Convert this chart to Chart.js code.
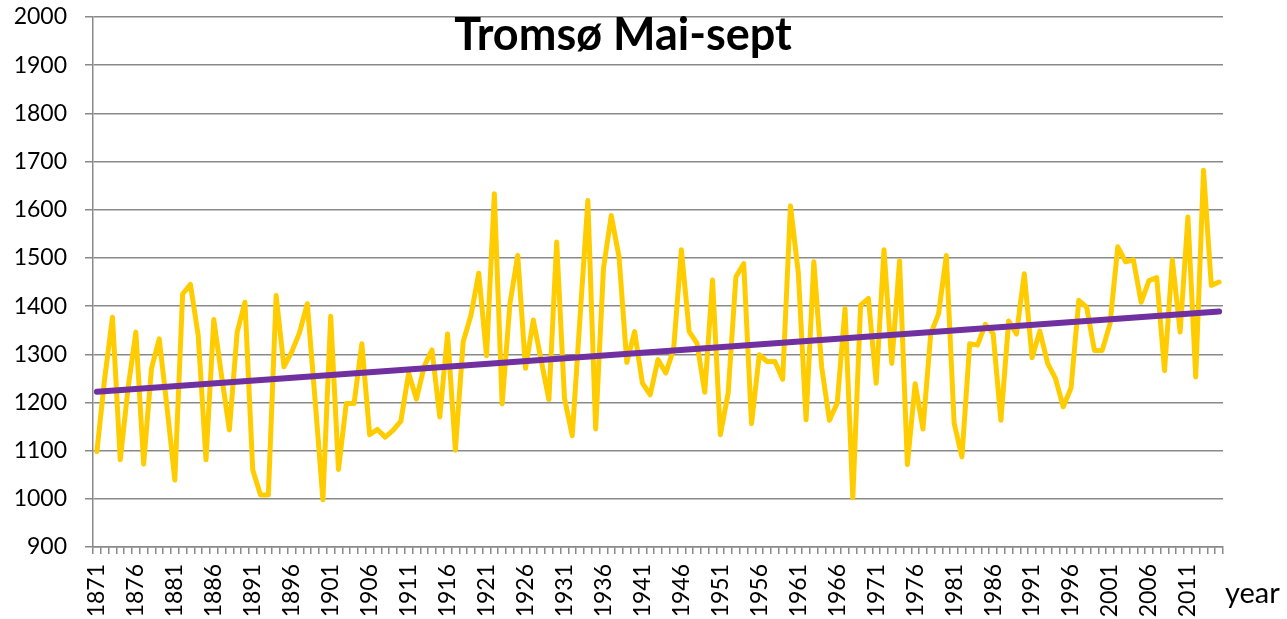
<!DOCTYPE html>
<html>
<head>
<meta charset="utf-8">
<title>Tromsø Mai-sept</title>
<script src="https://cdn.jsdelivr.net/npm/chart.js@4.4.1/dist/chart.umd.min.js"></script>
<style>
    html, body { margin: 0; padding: 0; background: #ffffff; }
    #wrap { width: 1287px; height: 619px; position: relative; }
</style>
</head>
<body>
<div id="wrap"><canvas id="tromsoChart"></canvas></div>
<script>
// Years on the category axis
const firstYear = 1871;
const lastYear = 2015;
const years = Array.from({ length: lastYear - firstYear + 1 }, (_, i) => String(firstYear + i));

// Yearly values (1871-2015)
const tromsoValues = [
    1098, 1250, 1377, 1081, 1230, 1346, 1072, 1270, 1332, 1190,
    1039, 1425, 1445, 1339, 1081, 1372, 1255, 1143, 1346, 1408,
    1060, 1008, 1008, 1422, 1274, 1305, 1345, 1405, 1205, 998,
    1379, 1061, 1198, 1198, 1322, 1133, 1144, 1128, 1142, 1161,
    1261, 1207, 1275, 1309, 1170, 1342, 1101, 1326, 1381, 1468,
    1297, 1633, 1197, 1405, 1505, 1271, 1371, 1288, 1206, 1533,
    1209, 1131, 1378, 1619, 1145, 1478, 1588, 1502, 1283, 1347,
    1240, 1216, 1289, 1261, 1310, 1517, 1347, 1323, 1221, 1454,
    1133, 1219, 1461, 1488, 1156, 1299, 1285, 1285, 1248, 1608,
    1470, 1164, 1492, 1274, 1163, 1199, 1395, 1002, 1402, 1416,
    1240, 1517, 1281, 1494, 1071, 1239, 1145, 1343, 1384, 1505,
    1157, 1087, 1322, 1319, 1362, 1343, 1163, 1369, 1342, 1467,
    1293, 1348, 1281, 1250, 1191, 1230, 1412, 1398, 1308, 1308,
    1363, 1523, 1492, 1496, 1408, 1453, 1459, 1266, 1496, 1346,
    1585, 1253, 1682, 1443, 1450
];

// Trend line end points
const trendStart = 1222;
const trendEnd = 1389;
const trendValues = years.map((_, i) => i === 0 ? trendStart : (i === years.length - 1 ? trendEnd : null));

// Y axis range and every 5th year as a tick label
const yMin = 900;
const yMax = 2000;
const yStep = 100;
const labelEvery = 5;

const titleText = 'Tromsø Mai-sept';
const xAxisTitle = 'year';

const gridColor = '#898989';

// Draws the title inside the plot and the "year" label to the right of the axis
const textPlugin = {
    id: 'textPlugin',
    afterDraw(chart) {
        const ctx = chart.ctx;
        ctx.save();
        ctx.fillStyle = '#000000';
        ctx.textBaseline = 'alphabetic';
        ctx.textAlign = 'center';
        ctx.font = 'bold 45px Lato';
        ctx.fillText(titleText, 623, 50);
        ctx.textAlign = 'left';
        ctx.font = '29px Lato';
        ctx.fillText(xAxisTitle, 1225, 603);
        ctx.restore();
    }
};

const ctxTromso = document.getElementById('tromsoChart').getContext('2d');
const tromsoChart = new Chart(ctxTromso, {
    type: 'line',
    data: {
        labels: years,
        datasets: [{
            label: 'Trend',
            data: trendValues,
            borderColor: '#7030A0',
            borderWidth: 6,
            borderCapStyle: 'round',
            pointRadius: 0,
            spanGaps: true,
            order: 1
        }, {
            label: 'Tromsø',
            data: tromsoValues,
            borderColor: '#FFCC00',
            borderWidth: 5,
            borderJoinStyle: 'round',
            borderCapStyle: 'round',
            pointRadius: 0,
            tension: 0,
            order: 2
        }]
    },
    options: {
        responsive: true,
        maintainAspectRatio: false,
        animation: false,
        layout: {
            padding: { top: 17, right: 64, bottom: 0, left: 0 }
        },
        plugins: {
            legend: { display: false },
            tooltip: { enabled: false }
        },
        scales: {
            x: {
                type: 'category',
                offset: true,
                grid: {
                    display: true,
                    drawOnChartArea: false,
                    offset: true,
                    color: gridColor,
                    lineWidth: 1.5,
                    tickLength: 7
                },
                border: { color: gridColor, width: 1.5 },
                ticks: {
                    autoSkip: false,
                    maxRotation: 90,
                    minRotation: 90,
                    padding: 10,
                    color: '#000000',
                    font: { family: 'Lato', size: 23 },
                    callback: function (value, index) {
                        return index % labelEvery === 0 ? years[index] : '';
                    }
                },
                afterFit: function (scale) {
                    scale.height = 72;
                }
            },
            y: {
                min: yMin,
                max: yMax,
                grid: {
                    color: gridColor,
                    lineWidth: 1.5,
                    tickLength: 8
                },
                border: { color: gridColor, width: 1.5 },
                ticks: {
                    stepSize: yStep,
                    padding: 18,
                    color: '#000000',
                    font: { family: 'Lato', size: 23 },
                    callback: function (value) {
                        return String(value);
                    }
                },
                afterFit: function (scale) {
                    scale.width = 93;
                    scale.paddingTop = 0;
                    scale.paddingBottom = 0;
                }
            }
        }
    },
    plugins: [textPlugin]
});
</script>
</body>
</html>
